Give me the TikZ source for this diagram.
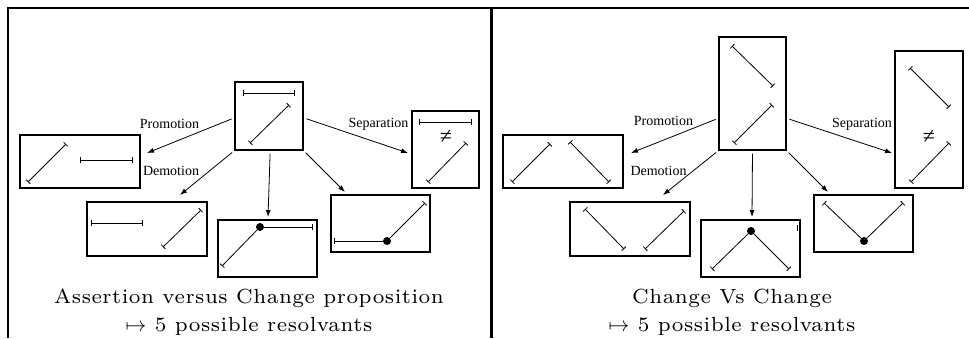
\documentclass[tikz,border=0pt]{standalone}
\usepackage{fontspec}
\newfontfamily\labelfont{Liberation Serif}
\newfontfamily\captfont[LetterSpace=2.5]{lmroman7-regular.otf}
\usetikzlibrary{arrows.meta}
\tikzset{
  box/.style={draw, line width=1.2pt, inner sep=0pt},
  flow/.style={-{Latex[length=7pt,width=5pt]}, line width=0.8pt, shorten <=3pt},
  ival/.style={{Bar[width=6pt]}-{Bar[width=6pt]}, line width=0.8pt},
  half/.style={{Bar[width=6pt]}-, line width=0.8pt},
  joint/.style={fill, circle, inner sep=0pt, minimum size=8pt},
  lbl/.style={font=\labelfont\fontsize{14}{16}\selectfont, inner sep=0pt},
  neq/.style={font=\labelfont\fontsize{22}{24}\selectfont, inner sep=0pt},
  capt/.style={font=\captfont\fontsize{20.5}{28}\selectfont, anchor=base, inner sep=0pt},
  frame/.style={line width=2pt},
}
\begin{document}
\begin{tikzpicture}[x=1pt,y=-1pt]
    \useasboundingbox (0,0) rectangle (969,338);

    % Frame
    \draw[frame] (8,338) -- (8,7.5) -- (969,7.5);
    \draw[line width=3pt] (491.5,7.5) -- (491.5,338);

    % Boxes
    \foreach \n/\x/\y/\w/\h in {topA/269/116/68/68, promA/80/161.5/120/53,
        demA/147/229/120/54, meetA/267.5/248.5/99/57, metA/380.5/223.5/99/57,
        sepA/445.5/149.5/67/77,
        topB/752.5/93.5/67/113, promB/563/161.5/120/53, demB/630/229/120/54,
        meetB/750.5/248.5/99/57, metB/863.5/223.5/99/57, sepB/929/119.5/68/137} {
        \node[box, minimum width=\w pt, minimum height=\h pt] (\n) at (\x,\y) {};
    }

    % Arrow tips
    \coordinate (pA) at (147,153);
    \coordinate (dA) at (180,195);
    \coordinate (mA) at (268,217);
    \coordinate (tA) at (345,192);
    \coordinate (sA) at (408,153);
    \coordinate (pB) at (631,153);
    \coordinate (dB) at (663,195);
    \coordinate (mB) at (752,217);
    \coordinate (tB) at (828,192);
    \coordinate (sB) at (892,153);

    % Arrows
    \foreach \a/\b in {topA.183/pA, topA.225/dA, topA.272/mA, topA.315/tA,
        topA.357/sA, topB.216/pB, topB.south west/dB, topB.south/mB,
        topB.south east/tB, topB.324/sB} {
        \draw[flow] (\a) -- (\b);
    }

    % Labels
    \node[lbl] (promoA) at (169.5,124) {Promotion};
    \node[lbl] (demoA) at (171,171) {Demotion};
    \node[lbl] (sepaA) at (378.5,124) {Separation};
    \node[lbl] (promoB) at (663.5,121) {Promotion};
    \node[lbl] (demoB) at (658.5,171) {Demotion};
    \node[lbl] (sepaB) at (862,124) {Separation};

    % Left: assertion and change
    \draw[ival] (243,93) -- (295,93);
    \draw[ival] (250,143) -- (289,105);
    \draw[ival] (28,182) -- (66,144);
    \draw[ival] (80,160) -- (133,160);
    \draw[ival] (91,223) -- (143,223);
    \draw[ival] (163,247) -- (201,210);
    \node[joint] (jA) at (260,227) {};
    \draw[half] (222,266) -- (jA);
    \draw[half] (313,227) -- (jA);
    \node[joint] (jB) at (387,241) {};
    \draw[half] (334,241) -- (jB);
    \draw[half] (425,203) -- (jB);
    \draw[ival] (419,122) -- (472,122);
    \node[neq] (neqA) at (446,137) {≠};
    \draw[ival] (428,182) -- (466,143);

    % Right: change and change
    \draw[ival] (732,46) -- (773,86);
    \draw[ival] (734,143) -- (772,105);
    \draw[ival] (512,182) -- (550,144);
    \draw[ival] (570,142) -- (609,182);
    \draw[ival] (585,209) -- (624,249);
    \draw[ival] (645,249) -- (684,211);
    \node[joint] (jC) at (751,231) {};
    \draw[half] (712,269) -- (jC);
    \draw[half] (789,269) -- (jC);
    \draw[line width=0.8pt] (797,225) -- (797,231);
    \node[joint] (jD) at (864,241) {};
    \draw[half] (824,203) -- (jD);
    \draw[half] (903,203) -- (jD);
    \draw[ival] (910,68) -- (949,107);
    \node[neq] (neqB) at (929,137) {≠};
    \draw[ival] (911,182) -- (949,143);

    % Captions
    \node[capt] (capA) at (249,303) {Assertion versus Change proposition};
    \node[capt] (resA) at (249,331) {$\mapsto$ 5 possible resolvants};
    \node[capt] (capB) at (732,303) {Change Vs Change};
    \node[capt] (resB) at (732,331) {$\mapsto$ 5 possible resolvants};
\end{tikzpicture}
\end{document}
